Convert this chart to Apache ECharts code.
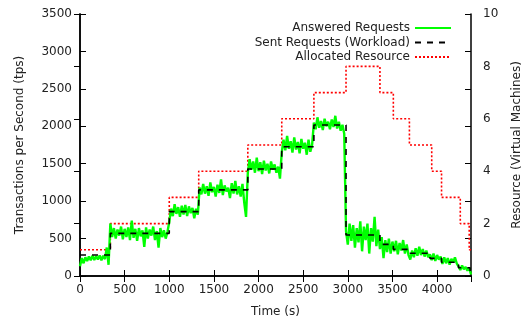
<!DOCTYPE html>
<html>
<head>
<meta charset="utf-8">
<script src="https://cdn.jsdelivr.net/npm/echarts@6/dist/echarts.min.js"></script>
<style>
  html, body { margin: 0; padding: 0; background: #fff; }
  #main { width: 523px; height: 316px; }
</style>
</head>
<body>
<div id="main"></div>
<script>
// answered requests, one sample every 20 s (tps)
var sampleStep = 20;
var answered = [
  130, 240, 170, 250, 200, 260, 210, 270, 215, 265, 220, 275, 210, 270, 225, 380, 150,      // 0-320
  700, 520, 640, 500, 620, 540, 660, 490, 630, 520, 650, 480, 740, 510, 630, 470, 640,      // 340-
  530, 610, 390, 650, 500, 620, 540, 660, 480, 600, 380, 640, 520, 610, 500, 590,           // -980
  720, 900, 800, 960, 830, 920, 790, 940, 820, 950, 800, 930, 840, 910, 770, 900, 820,      // 1000-1320
  1180, 1090, 1230, 1100, 1200, 1070, 1250, 1120, 1190, 1060, 1220, 1110, 1290, 1080,       // 1340-
  1210, 1130, 1180, 1040, 1240, 1100, 1270, 1090, 1200, 1060, 1230, 980, 790,               // -1860
  1380, 1560, 1420, 1530, 1380, 1580, 1400, 1520, 1360, 1540, 1410, 1500, 1370, 1530,       // 1880-
  1420, 1490, 1380, 1460, 1300,                                                             // -2240
  1650, 1820, 1680, 1870, 1700, 1800, 1650, 1850, 1690, 1790, 1640, 1830, 1700, 1780,       // 2260-
  1620, 1820, 1660, 1750,                                                                   // -2600
  2050, 1960, 2120, 1980, 2070, 1950, 2100, 2000, 2060, 1960, 2090, 1990, 2140, 1970,       // 2620-
  2060, 1940, 2020, 1900,                                                                   // -2960
  600, 420, 700, 470, 680, 380, 640, 450, 730, 330, 660, 480, 700, 300, 640, 460, 790,      // 2980-
  400, 620,                                                                                 // -3340
  360, 520, 240, 480, 320, 500, 300, 460,                                                   // 3360-3500
  330, 470, 290, 440, 340, 480, 300, 420, 280,                                              // 3520-3680
  220, 340, 250, 370, 270, 390, 280, 360, 260, 340, 250,                                    // 3700-3900
  290, 210, 300, 200, 280, 220, 260,                                                        // 3920-4040
  160, 250, 170, 240, 150, 230, 180, 250, 170,                                              // 4060-4220
  130, 80, 140, 90, 120, 70, 110, 20                                                        // 4240-4380
];

// sent requests (workload), step changes
var workloadT = [0, 340, 1000, 1330, 1880, 2260, 2620, 2980, 3360, 3510, 3700, 3920, 4050, 4240, 4370, 4380];
var workloadV = [280, 570, 860, 1150, 1430, 1727, 2017, 548, 423, 356, 303, 236, 183, 111, 20, 20];

// allocated resource (VMs), step changes
var resourceT = [0, 340, 1000, 1330, 1880, 2260, 2620, 2980, 3360, 3510, 3690, 3940, 4050, 4260, 4360, 4380];
var resourceV = [1, 2, 3, 4, 5, 6, 7, 8, 7, 6, 5, 4, 3, 2, 1, 1];

var xMax = 4380;
var txt = '#222';
var fontFam = 'DejaVu Sans';

var answeredData = answered.map(function (v, i) { return [i * sampleStep, v]; });
var workloadData = workloadT.map(function (t, i) { return [t, workloadV[i]]; });
var resourceData = resourceT.map(function (t, i) { return [t, resourceV[i]]; });

var myChart = echarts.init(document.getElementById('main'));

var axisLine = { show: true, lineStyle: { color: '#000', width: 1.5 } };
var tickIn = { show: true, inside: true, length: 6, lineStyle: { color: '#000', width: 1 } };
var labelStyle = { color: txt, fontSize: 12, fontFamily: fontFam };
var plain = function (v) { return String(v); };

option = {
  animation: false,
  textStyle: { fontFamily: fontFam },
  grid: { left: 80, right: 52, top: 14, bottom: 40, outerBoundsMode: 'none', containLabel: false },
  legend: {
    orient: 'vertical',
    right: 66,
    top: 17,
    align: 'right',
    itemWidth: 36,
    itemHeight: 12,
    itemGap: 2.5,
    itemStyle: { opacity: 0 },
    textStyle: { color: txt, fontSize: 12, fontFamily: fontFam },
    data: ['Answered Requests', 'Sent Requests (Workload)', 'Allocated Resource']
  },
  xAxis: [
    {
      type: 'value',
      min: 0, max: xMax, interval: 500,
      name: 'Time (s)',
      nameLocation: 'middle',
      nameGap: 30,
      nameTextStyle: labelStyle,
      axisLine: axisLine,
      axisTick: tickIn,
      axisLabel: { color: txt, fontSize: 12, fontFamily: fontFam, margin: 8, showMaxLabel: false, formatter: plain },
      splitLine: { show: false }
    },
    {
      type: 'value', position: 'top',
      min: 0, max: xMax, interval: 500,
      axisLine: axisLine,
      axisTick: tickIn,
      axisLabel: { show: false },
      splitLine: { show: false }
    }
  ],
  yAxis: [
    {
      type: 'value',
      min: 0, max: 3500, interval: 500,
      name: 'Transactions per Second (tps)',
      nameLocation: 'middle',
      nameGap: 54,
      nameTextStyle: labelStyle,
      axisLine: axisLine,
      axisTick: tickIn,
      axisLabel: { color: txt, fontSize: 12, fontFamily: fontFam, margin: 8, formatter: plain },
      splitLine: { show: false }
    },
    {
      type: 'value', position: 'right',
      min: 0, max: 10, interval: 2,
      name: 'Resource (Virtual Machines)',
      nameLocation: 'middle',
      nameGap: 40,
      nameTextStyle: labelStyle,
      axisLine: axisLine,
      axisTick: tickIn,
      axisLabel: { color: txt, fontSize: 12, fontFamily: fontFam, margin: 12, formatter: plain },
      splitLine: { show: false }
    },
    {
      // mirrored tps ticks on the right border
      type: 'value', position: 'right',
      min: 0, max: 3500, interval: 500,
      axisLine: axisLine,
      axisTick: tickIn,
      axisLabel: { show: false },
      splitLine: { show: false }
    }
  ],
  series: [
    {
      name: 'Answered Requests',
      type: 'line',
      data: answeredData,
      symbol: 'none',
      color: '#00ff00',
      lineStyle: { color: '#00ff00', width: 2.4 },
      z: 2
    },
    {
      name: 'Sent Requests (Workload)',
      type: 'line',
      step: 'end',
      data: workloadData,
      symbol: 'none',
      color: '#000',
      lineStyle: { color: '#000', width: 1.6, type: [6, 6] },
      z: 3
    },
    {
      name: 'Allocated Resource',
      type: 'line',
      step: 'end',
      yAxisIndex: 1,
      data: resourceData,
      symbol: 'none',
      color: '#ff0000',
      lineStyle: { color: '#ff0000', width: 1.6, type: [2, 2] },
      z: 1
    }
  ]
};

myChart.setOption(option);
</script>
</body>
</html>
